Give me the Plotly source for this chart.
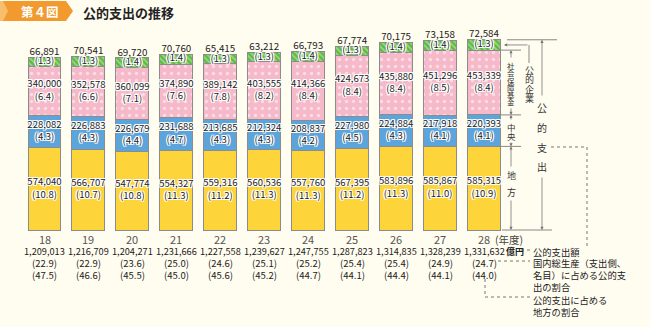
import plotly.graph_objects as go

# ---------------- data ----------------
years = ["18", "19", "20", "21", "22", "23", "24", "25", "26", "27", "28"]
local = [574040, 566707, 547774, 554327, 559316, 560536, 557760, 567395, 583896, 585867, 585315]
local_pct = [10.8, 10.7, 10.8, 11.3, 11.2, 11.3, 11.3, 11.2, 11.3, 11.0, 10.9]
central = [228082, 226883, 226679, 231688, 213685, 212324, 208837, 227980, 224884, 217918, 220393]
central_pct = [4.3, 4.3, 4.4, 4.7, 4.3, 4.3, 4.2, 4.5, 4.3, 4.1, 4.1]
social = [340000, 352578, 360099, 374890, 389142, 403555, 414366, 424673, 435880, 451296, 453339]
social_pct = [6.4, 6.6, 7.1, 7.6, 7.8, 8.2, 8.4, 8.4, 8.4, 8.5, 8.4]
enterprise = [66891, 70541, 69720, 70760, 65415, 63212, 66793, 67774, 70175, 73158, 72584]
enterprise_pct = [1.3, 1.3, 1.4, 1.4, 1.3, 1.3, 1.4, 1.3, 1.4, 1.4, 1.3]
totals = [1209013, 1216709, 1204271, 1231666, 1227558, 1239627, 1247755, 1287823, 1314835, 1328239, 1331632]
gdp_share = [22.9, 22.9, 23.6, 25.0, 24.6, 25.1, 25.2, 25.4, 25.4, 24.9, 24.7]
local_share = [47.5, 46.6, 45.5, 45.0, 45.6, 45.2, 44.7, 44.1, 44.4, 44.1, 44.0]

# ---------------- geometry helpers ----------------
W, H = 650, 327
CX0, CDX = 44.5, 43.95          # pixel centre of first bar, spacing
BASE_PY, UNIT = 230, 7000.0     # pixel row of zero, units per pixel


def xd(px):
    return (px - CX0) / CDX


def yd(py):
    return (BASE_PY - py) * UNIT


FONT = "Noto Sans CJK JP"
BG = "#FFFCF0"
HALO = ("1px 0 0 #fff, -1px 0 0 #fff, 0 1px 0 #fff, 0 -1px 0 #fff, "
        "1px 1px 0 #fff, -1px -1px 0 #fff, 1px -1px 0 #fff, -1px 1px 0 #fff")

n = len(years)
idx = list(range(n))
fig = go.Figure()

# title banner (decoration)
fig.add_scatter(x=[xd(p) for p in (0, 66, 73, 66, 0)], y=[yd(p) for p in (1, 1, 11, 21, 21)],
                fill="toself", fillcolor="#F29A2E", mode="lines", line=dict(width=0),
                hoverinfo="skip")
fig.add_scatter(x=[xd(p) for p in (0, 3, 8, 3, 0)], y=[yd(p) for p in (1, 1, 11, 21, 21)],
                fill="toself", fillcolor="#F7BE6E", mode="lines", line=dict(width=0),
                hoverinfo="skip")

layers = [
    (local, local_pct, "#FDD43A", None),
    (central, central_pct, "#5BA4DC", None),
    (social, social_pct, "#F6B9C9",
     dict(shape=".", fgcolor="#ffffff", bgcolor="#F6B9C9", size=7, solidity=0.18)),
    (enterprise, enterprise_pct, "#5DB942",
     dict(shape="\\", fgcolor="#E2F5D6", bgcolor="#5DB942", size=4, solidity=0.4)),
]

base = [0] * n
text_x, text_y, text_s = [], [], []
for k, (vals, pcts, col, pat) in enumerate(layers):
    marker = dict(color=col, line=dict(color="#8c8c8c", width=1))
    if pat:
        marker["pattern"] = pat
    fig.add_bar(x=idx, y=vals, width=0.75, marker=marker, hoverinfo="skip")
    for i in idx:
        mid = base[i] + vals[i] / 2
        text_x.append(i)
        text_y.append(mid)
        if k < 3:
            text_s.append(f"{vals[i]:,}<br>({pcts[i]:.1f})")
        else:
            text_s.append(f"({pcts[i]:.1f})")
        base[i] += vals[i]

fig.add_scatter(x=text_x, y=text_y, text=text_s, mode="text",
                textposition="middle center", hoverinfo="skip",
                textfont=dict(family=FONT, size=9.5, color="#222", shadow=HALO))
fig.add_scatter(x=idx, y=totals, text=[f"{v:,}" for v in enterprise], mode="text",
                textposition="top center", hoverinfo="skip",
                textfont=dict(family=FONT, size=9.8, color="#222"))

ann = []
# bottom rows
for i in idx:
    ann.append(dict(x=i, y=0, text=years[i], showarrow=False, yshift=-9,
                    font=dict(family=FONT, size=11, color="#555")))
    ann.append(dict(x=i, y=0, text=f"{totals[i]:,}", showarrow=False, yshift=-21,
                    font=dict(family=FONT, size=9.2, color="#222")))
    ann.append(dict(x=i, y=0, text=f"({gdp_share[i]:.1f})", showarrow=False, yshift=-33,
                    font=dict(family=FONT, size=9.5, color="#222")))
    ann.append(dict(x=i, y=0, text=f"({local_share[i]:.1f})", showarrow=False, yshift=-45,
                    font=dict(family=FONT, size=9.5, color="#222")))
last = n - 1
ann.append(dict(x=xd(493), y=0, text="(年度)", showarrow=False, yshift=-9, xanchor="left",
                font=dict(family=FONT, size=10.5, color="#444")))
ann.append(dict(x=xd(504), y=0, text="<b>億円</b>", showarrow=False, yshift=-21, xanchor="left",
                font=dict(family=FONT, size=9, color="#222")))


# right-hand notes
def note(px, py, txt, size=9.3):
    ann.append(dict(x=xd(px), y=yd(py), text=txt, showarrow=False, xanchor="left",
                    yanchor="top", align="left",
                    font=dict(family=FONT, size=size, color="#222")))


note(531, 243, "公的支出額")
note(531, 254, "国内総生産（支出側、<br>名目）に占める公的支<br>出の割合")
note(531, 291, "公的支出に占める<br>地方の割合")


def vtext(chars, px, pys, size):
    for c, py in zip(chars, pys):
        ann.append(dict(x=xd(px), y=yd(py), text=c, showarrow=False,
                        font=dict(family=FONT, size=size, color="#333")))


def arrow(px, y_head, y_tail):
    ann.append(dict(x=xd(px), y=y_head, ax=xd(px), ay=y_tail, axref="x", ayref="y",
                    xref="x", yref="y", text="", showarrow=True, arrowhead=2,
                    arrowsize=0.8, arrowwidth=0.8, arrowcolor="#777"))


y_top = totals[last]
y_pink = local[last] + central[last] + social[last]
y_blue = local[last] + central[last]
y_yel = local[last]
y_green_mid = (y_top + y_pink) / 2

# 公的企業 leader
ann.append(dict(x=xd(504), y=y_green_mid, ax=xd(529), ay=y_green_mid, axref="x", ayref="y",
                text="", showarrow=True, arrowhead=2, arrowsize=0.8, arrowwidth=0.8,
                arrowcolor="#777"))
vtext("公的企業", 529, [70, 79.5, 89, 98.5], 9)

# 社会保障基金
arrow(511, y_pink, yd(59))
vtext("社会保障基金", 511, [65.6, 72.8, 80, 87.2, 94.4, 101.6], 7.4)
arrow(511, y_blue, yd(107))
# 中央
arrow(511, y_blue, yd(121))
vtext("中央", 511, [126.5, 135.5], 8.5)
arrow(511, y_yel, yd(141))
# 地方
arrow(511, y_yel, yd(168))
vtext("地方", 511, [175, 192], 9)
arrow(511, 0, yd(199))
# 公的支出
arrow(542, y_top, yd(97))
vtext("公的支出", 542, [107, 127, 147, 166], 10)
arrow(542, 0, yd(176))

# title banner texts
ann.append(dict(x=xd(40), y=yd(11), text="<b>第４図</b>",
                showarrow=False, font=dict(family=FONT, size=12.5, color="#fff")))
ann.append(dict(x=xd(81), y=yd(12), text="<b>公的支出の推移</b>",
                xanchor="left", showarrow=False, font=dict(family=FONT, size=13, color="#222")))

shapes = []


def hline(px0, px1, y, dash="solid", color="#888"):
    shapes.append(dict(type="line", xref="x", yref="y", x0=xd(px0), x1=xd(px1), y0=y, y1=y,
                       line=dict(color=color, width=1, dash=dash)))


def vline(px, y0, y1, dash="solid", color="#888"):
    shapes.append(dict(type="line", xref="x", yref="y", x0=xd(px), x1=xd(px), y0=y0, y1=y1,
                       line=dict(color=color, width=1, dash=dash)))


hline(507, 557, y_top)
vline(529, y_green_mid, yd(63))
hline(500, 521, y_pink)
hline(500, 521, y_blue)
hline(500, 521, y_yel)
hline(502, 552, 0)

# dotted connectors
hline(551, 587, yd(147), "dot", "#777")
vline(587, yd(147), yd(247), "dot", "#777")
hline(521, 530, yd(250), "dot", "#777")
hline(498, 530, yd(261), "dot", "#777")
vline(485, yd(279), yd(297), "dot", "#777")
hline(485, 530, yd(297), "dot", "#777")

fig.update_layout(
    width=W, height=H, margin=dict(l=0, r=0, t=0, b=0),
    paper_bgcolor=BG, plot_bgcolor=BG, barmode="stack", showlegend=False,
    xaxis=dict(visible=False, range=[xd(0), xd(W)], fixedrange=True),
    yaxis=dict(visible=False, range=[yd(H), yd(0)], fixedrange=True),
    annotations=ann, shapes=shapes, hovermode=False,
)

fig.write_html("out.html")
